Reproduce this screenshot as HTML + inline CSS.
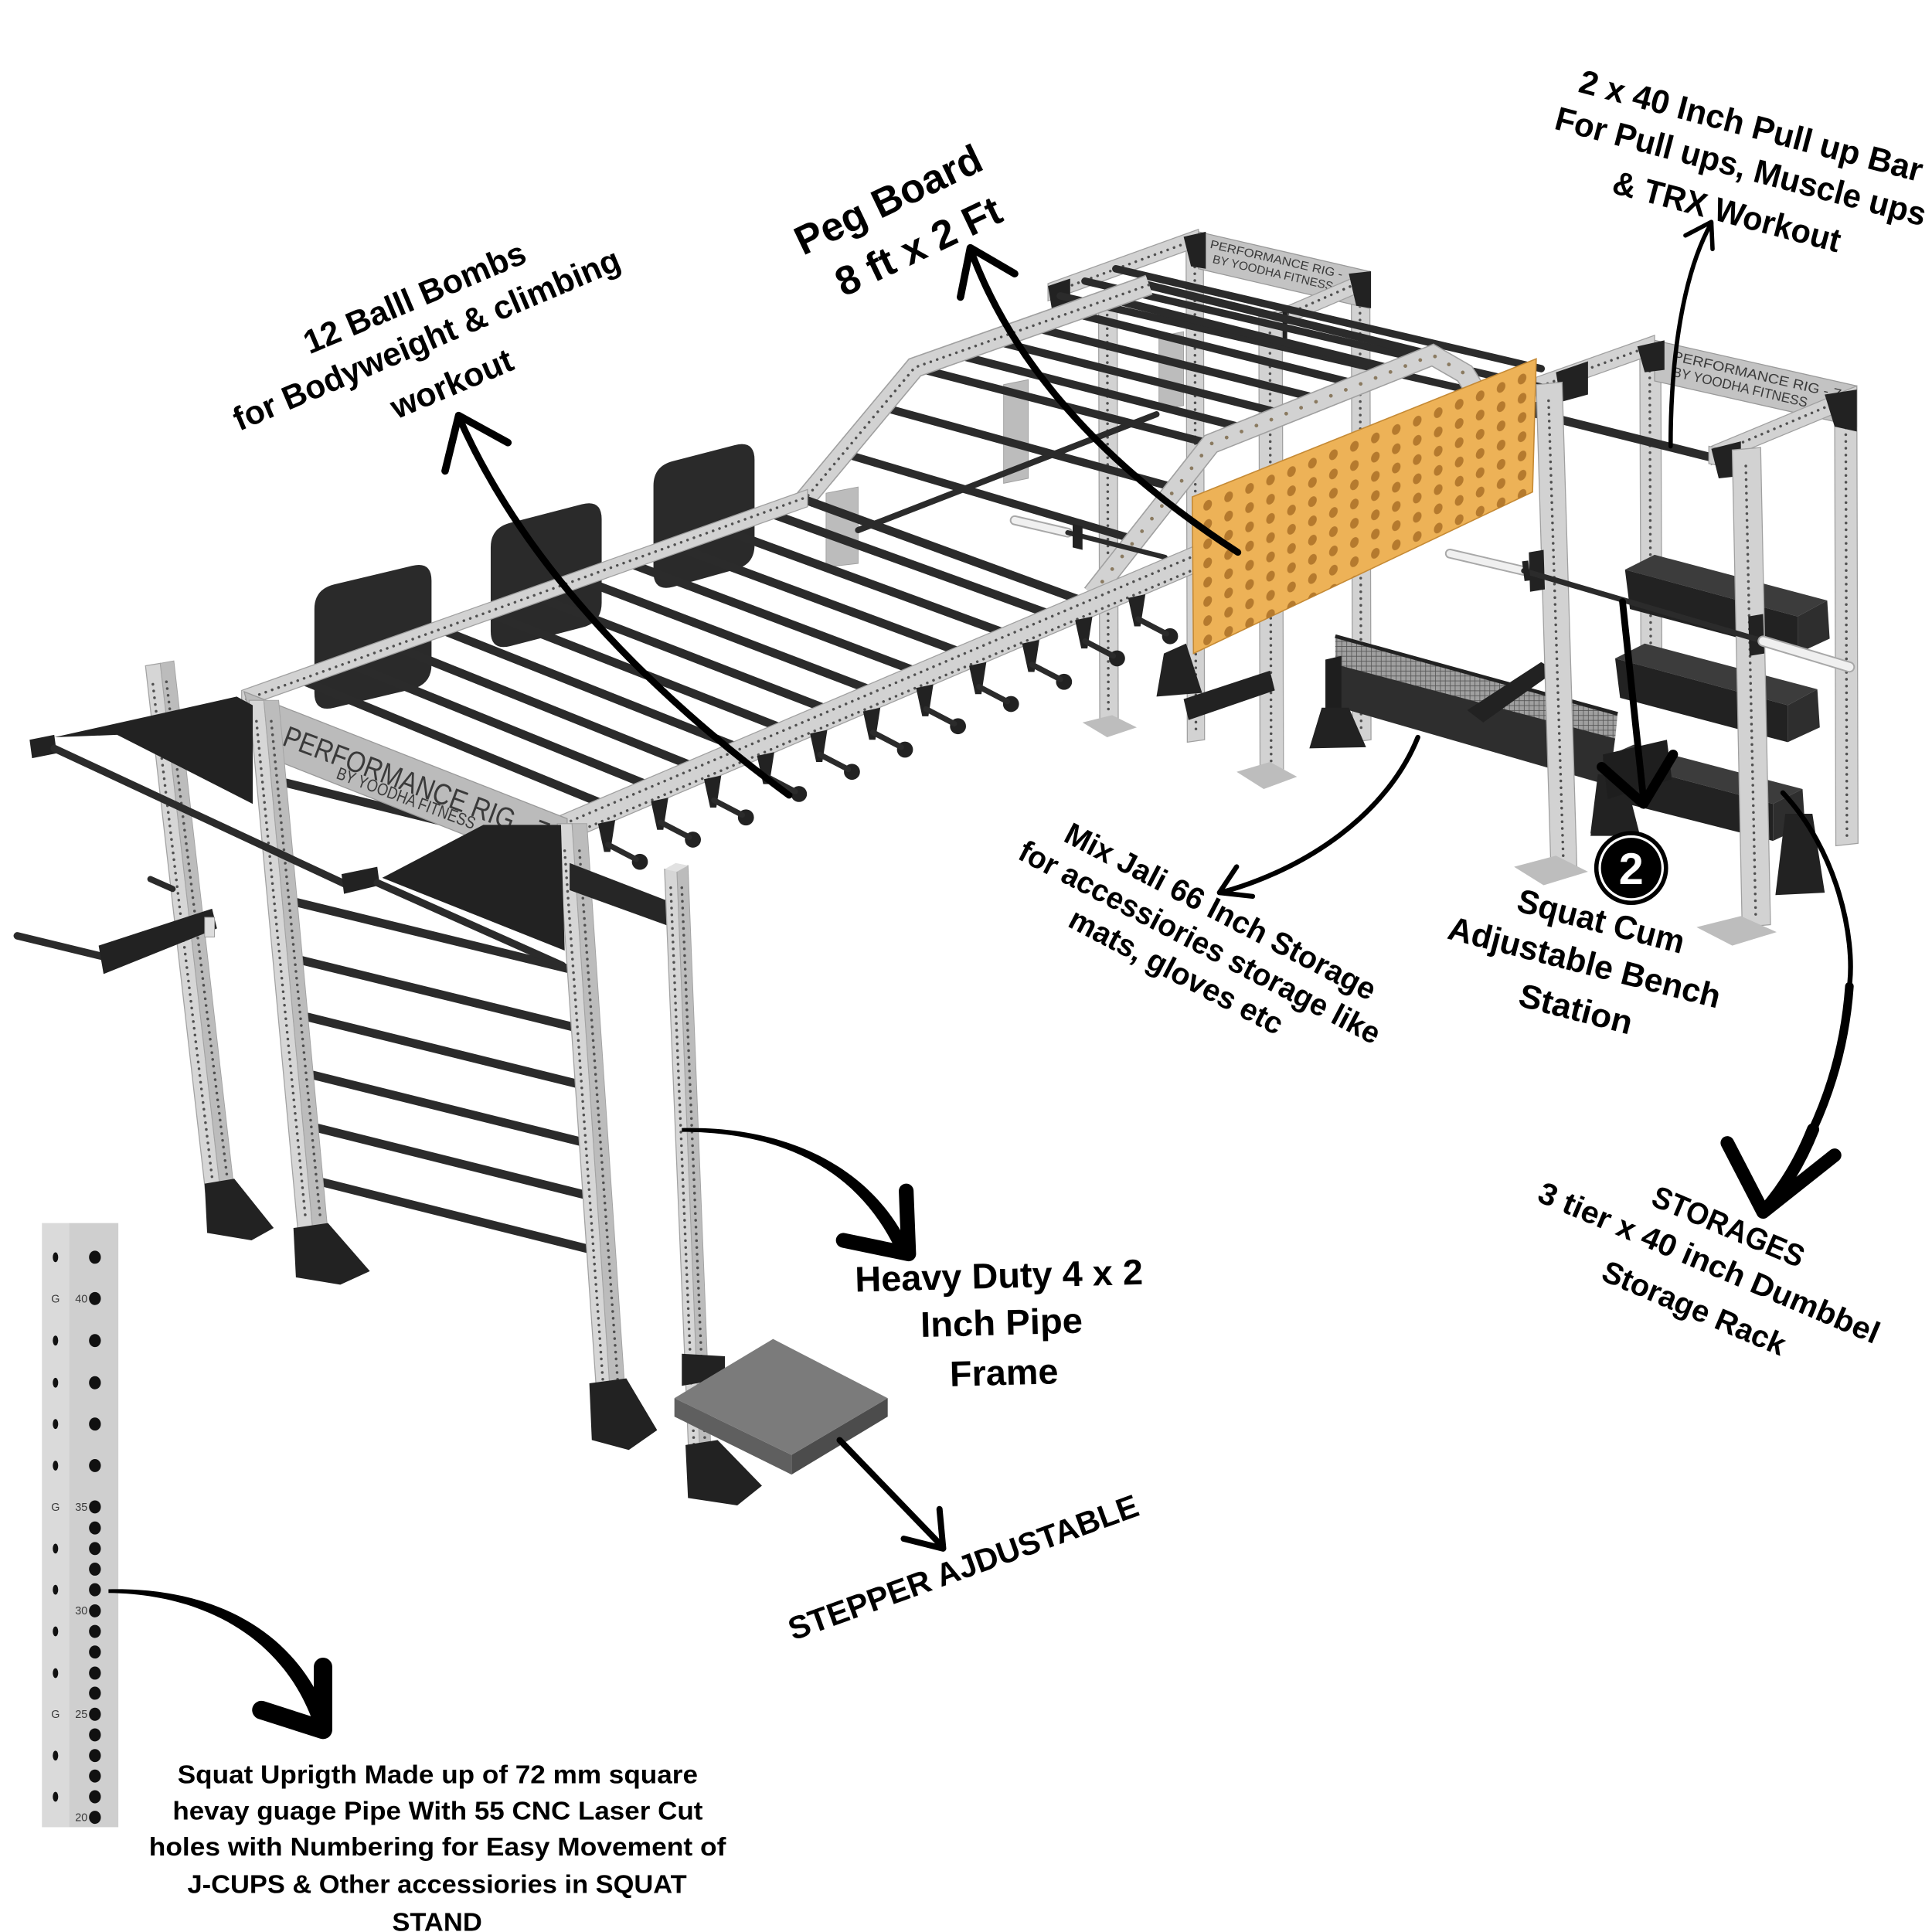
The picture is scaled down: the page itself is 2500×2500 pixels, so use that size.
<!DOCTYPE html>
<html><head><meta charset="utf-8"><style>
html,body{margin:0;padding:0;background:#fff;overflow:hidden;}
svg{display:block;}
.gm{fill:#d2d2d2;stroke:#a0a0a0;stroke-width:.8}
.gs{fill:#bcbcbc;stroke:#a0a0a0;stroke-width:.6}
.bk{fill:#222}
.rb{stroke:#2b2b2b;stroke-linecap:round;fill:none}
.dt{stroke:#505050;stroke-width:2.2;stroke-dasharray:0.01 5.5;stroke-linecap:round;fill:none}
.ar{stroke:#000;fill:none;stroke-linecap:round;stroke-linejoin:round}
.t{font-family:"Liberation Sans",Arial,sans-serif;font-weight:700;fill:#000}
.st{font-family:"Liberation Sans",Arial,sans-serif;fill:#3a3a3a}
</style></head><body>
<svg xmlns="http://www.w3.org/2000/svg" width="2500" height="2500" viewBox="0 0 1567 1567">
<defs>
<pattern id="holes" patternUnits="userSpaceOnUse" x="4" y="4" width="17" height="15.6"><ellipse cx="8.5" cy="7.8" rx="3.5" ry="4.1" fill="#B57A2E"/></pattern>
<pattern id="mesh" patternUnits="userSpaceOnUse" width="4" height="4"><rect width="4" height="4" fill="#a0a0a0"/><path d="M0,0H4M0,0V4" stroke="#555" stroke-width="1"/></pattern>
<clipPath id="pbc"><polygon points="967,403 1246,291 1243,399 968,530"/></clipPath>
</defs>
<rect width="1567" height="1567" fill="#fff"/>

<!-- Right rig back -->
<polygon class="gm" points="1330,280 1347,278 1348,565 1331,567"/>
<line class="dt" x1="1338" y1="290" x2="1339" y2="560"/>
<polygon class="gm" points="1488,315 1506,315 1507,684 1489,686"/>
<line class="dt" x1="1497" y1="325" x2="1498" y2="680"/>
<polygon fill="#c3c3c3" stroke="#9a9a9a" stroke-width=".8" points="1342,276 1506,313 1506,346 1342,309"/>
<text class="st" font-size="11" transform="translate(1356,292) rotate(13)" textLength="140" lengthAdjust="spacingAndGlyphs">PERFORMANCE RIG - 7</text>
<text class="st" font-size="11" transform="translate(1356,305) rotate(13)" textLength="112" lengthAdjust="spacingAndGlyphs">BY YOODHA FITNESS</text>
<polygon class="gm" points="1246,306 1342,272 1342,287 1246,321"/>
<line class="dt" x1="1250" y1="313" x2="1338" y2="281"/>
<polygon class="gm" points="1506,313 1388,362 1388,377 1506,328"/>
<line class="dt" x1="1500" y1="322" x2="1394" y2="367"/>

<!-- Middle rig -->
<polygon class="gm" points="962,192 976,190 977,600 963,602"/>
<line class="dt" x1="969" y1="200" x2="970" y2="595"/>
<polygon class="gm" points="1096,222 1111,220 1112,600 1097,602"/>
<line class="dt" x1="1103" y1="232" x2="1104" y2="595"/>
<polygon fill="#c3c3c3" stroke="#9a9a9a" stroke-width=".8" points="972,188 1110,220 1110,250 972,218"/>
<text class="st" font-size="9.5" transform="translate(981,201) rotate(13)" textLength="110" lengthAdjust="spacingAndGlyphs">PERFORMANCE RIG -</text>
<text class="st" font-size="9.5" transform="translate(983,213) rotate(13)" textLength="100" lengthAdjust="spacingAndGlyphs">BY YOODHA FITNESS</text>
<polygon class="gm" points="850,230 972,186 972,200 850,244"/>
<line class="dt" x1="854" y1="237" x2="968" y2="195"/>
<polygon class="gm" points="1110,220 1026,256 1026,270 1110,234"/>
<line class="dt" x1="1105" y1="228" x2="1030" y2="261"/>
<polygon class="bk" points="960,192 978,188 978,218 966,216"/>
<polygon class="bk" points="1094,222 1112,220 1112,250 1100,248"/>
<polygon class="bk" points="1020,258 1044,252 1044,280 1026,282"/>
<polygon class="bk" points="850,232 868,226 868,254 854,256"/>
<polygon class="gs" points="940,273 960,269 960,329 940,332"/>
<polygon class="gm" points="891,238 906,236 907,588 892,590"/>
<line class="dt" x1="898" y1="250" x2="899" y2="580"/>
<polygon fill="#bdbdbd" points="878,586 902,580 922,590 898,598"/>
<polygon class="gm" points="1021,256 1040,254 1041,628 1022,630"/>
<line class="dt" x1="1030" y1="270" x2="1031" y2="620"/>
<polygon fill="#bdbdbd" points="1003,626 1030,618 1052,630 1025,640"/>

<!-- long dark bars -->
<line class="rb" stroke-width="6" x1="860" y1="240" x2="1250" y2="330"/>
<line class="rb" stroke-width="6" x1="880" y1="228" x2="1250" y2="314"/>
<line class="rb" stroke-width="6" x1="905" y1="218" x2="1250" y2="299"/>
<line class="rb" stroke-width="7" x1="1200" y1="324" x2="1392" y2="372"/>
<polygon class="gm" points="1386,362 1424,370 1424,383 1386,376"/>
<polygon class="bk" points="1262,302 1288,293 1288,320 1266,326"/>
<polygon class="bk" points="1480,320 1506,316 1506,350 1488,346"/>
<polygon class="bk" points="1388,364 1412,358 1412,386 1394,388"/>
<polygon class="bk" points="1328,281 1350,276 1350,300 1334,302"/>

<!-- under far arch -->
<polygon class="gs" points="670,400 696,395 696,457 670,460"/>
<polygon class="gs" points="814,312 834,308 834,388 814,392"/>
<line class="rb" stroke-width="5" x1="696" y1="430" x2="938" y2="336"/>

<!-- arch bars -->
<g class="rb" stroke-width="6.5">
<line x1="683.5" y1="367.5" x2="919.6" y2="437.4"/>
<line x1="715" y1="330" x2="953.2" y2="395.7"/>
<line x1="742" y1="298" x2="982" y2="360"/>
<line x1="773" y1="287" x2="1012" y2="348"/>
<line x1="805" y1="276" x2="1042" y2="336"/>
<line x1="836" y1="265" x2="1072" y2="324"/>
<line x1="867" y1="253" x2="1102" y2="312"/>
<line x1="899" y1="242" x2="1132" y2="300"/>
<line x1="930" y1="231" x2="1162" y2="288"/>
</g>
<!-- far arch member -->
<polyline points="652,406 742,298 932,231" fill="none" stroke="#a0a0a0" stroke-width="17"/>
<polyline points="652,406 742,298 932,231" fill="none" stroke="#d2d2d2" stroke-width="15"/>
<polyline class="dt" points="652,406 742,298 932,231"/>

<!-- ball bomb plates -->
<path fill="#2a2a2a" d="M255,494 Q255,478 271,474 L334,459 Q350,455 350,471 L350,539 Q350,555 334,559 L271,574 Q255,578 255,562 Z"/>
<path fill="#2a2a2a" d="M398,444 Q398,428 414,424 L472,409 Q488,405 488,421 L488,489 Q488,505 472,509 L414,524 Q398,528 398,512 Z"/>
<path fill="#2a2a2a" d="M530,394 Q530,378 546,374 L596,361 Q612,357 612,373 L612,442 Q612,458 596,462 L546,476 Q530,480 530,464 Z"/>

<!-- monkey rungs -->
<g class="rb" stroke-width="7">
<line x1="243" y1="551" x2="497.9" y2="655.7"/>
<line x1="281" y1="537.5" x2="534.1" y2="640.3"/>
<line x1="319" y1="523.9" x2="570.4" y2="624.9"/>
<line x1="357" y1="510.4" x2="606.6" y2="609.4"/>
<line x1="395" y1="496.9" x2="642.8" y2="594"/>
<line x1="433" y1="483.3" x2="679.1" y2="578.5"/>
<line x1="471" y1="469.8" x2="715.3" y2="563.1"/>
<line x1="509" y1="456.3" x2="751.6" y2="547.7"/>
<line x1="547" y1="442.8" x2="787.8" y2="532.2"/>
<line x1="585" y1="429.2" x2="824" y2="516.8"/>
<line x1="623" y1="415.7" x2="860.3" y2="501.4"/>
<line x1="652" y1="405" x2="886" y2="490.4"/>
</g>

<!-- far rail -->
<polygon class="gm" points="196,560 655,397 655,411 196,574"/>
<line class="dt" x1="200" y1="567" x2="652" y2="404"/>

<!-- near arch member -->
<polyline points="886,482 982,360 1162,288 1188,303 1205,330" fill="none" stroke="#a0a0a0" stroke-width="17"/>
<polyline points="886,482 982,360 1162,288 1188,303 1205,330" fill="none" stroke="#d2d2d2" stroke-width="15"/>
<polyline points="886,482 982,360 1162,288 1188,303" fill="none" stroke="#8a7a60" stroke-width="3" stroke-dasharray="0.01 13" stroke-linecap="round"/>

<!-- barbell under arch -->
<line x1="823" y1="422" x2="866" y2="432" stroke="#a8a8a8" stroke-width="8" stroke-linecap="round"/>
<line x1="823" y1="422" x2="866" y2="432" stroke="#f0f0f0" stroke-width="5.5" stroke-linecap="round"/>
<line class="rb" stroke-width="4" x1="866" y1="432" x2="945" y2="452"/>
<polygon class="bk" points="870,425 878,427 878,446 870,444"/>

<!-- near rail -->
<polygon class="gm" points="453,662 985,436 985,458 453,685"/>
<line class="dt" x1="458" y1="668" x2="980" y2="446"/>
<line class="dt" x1="458" y1="679" x2="980" y2="457"/>

<!-- hooks -->
<g fill="#222">
<polygon points="485,668 499,665 495,691 490,691"/><polygon points="528,650 542,647 538,673 533,673"/>
<polygon points="571,632 585,629 581,655 576,655"/><polygon points="614,613 628,610 624,636 619,636"/>
<polygon points="657,595 671,592 667,618 662,618"/><polygon points="700,577 714,574 710,600 705,600"/>
<polygon points="743,558 757,555 753,581 748,581"/><polygon points="786,540 800,537 796,563 791,563"/>
<polygon points="829,522 843,519 839,545 834,545"/><polygon points="872,503 886,500 882,526 877,526"/>
<polygon points="915,485 929,482 925,508 920,508"/>
<circle cx="519" cy="699" r="6.5"/><circle cx="562" cy="681" r="6.5"/><circle cx="605" cy="663" r="6.5"/>
<circle cx="648" cy="644" r="6.5"/><circle cx="691" cy="626" r="6.5"/><circle cx="734" cy="608" r="6.5"/>
<circle cx="777" cy="589" r="6.5"/><circle cx="820" cy="571" r="6.5"/><circle cx="863" cy="553" r="6.5"/>
<circle cx="906" cy="534" r="6.5"/><circle cx="949" cy="516" r="6.5"/>
</g>
<g class="rb" stroke-width="4.5" stroke="#222">
<line x1="493" y1="685" x2="516" y2="697"/><line x1="536" y1="667" x2="559" y2="679"/><line x1="579" y1="649" x2="602" y2="661"/>
<line x1="622" y1="630" x2="645" y2="642"/><line x1="665" y1="612" x2="688" y2="624"/><line x1="708" y1="594" x2="731" y2="606"/>
<line x1="751" y1="575" x2="774" y2="587"/><line x1="794" y1="557" x2="817" y2="569"/><line x1="837" y1="539" x2="860" y2="551"/>
<line x1="880" y1="520" x2="903" y2="532"/><line x1="923" y1="502" x2="946" y2="514"/>
</g>

<!-- black stuff under pegboard -->
<polygon class="bk" points="944,530 962,522 975,562 938,565"/>
<polygon class="bk" points="960,567 1030,544 1034,560 964,584"/>

<!-- Pegboard -->
<polygon points="967,403 1246,291 1243,399 968,530" fill="#EDB257" stroke="#c58a35" stroke-width="1"/>
<g clip-path="url(#pbc)"><g transform="matrix(1,-0.4014,0,1,967,403)"><rect x="4" y="4" width="272" height="122" fill="url(#holes)"/></g></g>

<!-- Mix jali basket -->
<polygon fill="url(#mesh)" points="1083,516 1312,579 1310,600 1083,540"/>
<polygon fill="#2e2e2e" points="1080,538 1310,599 1305,637 1080,572"/>
<polygon fill="#1e1e1e" points="1075,535 1088,532 1088,575 1075,578"/>
<line x1="1083" y1="516" x2="1312" y2="579" stroke="#222" stroke-width="3"/>
<polygon class="bk" points="1072,574 1094,574 1108,606 1062,607"/>
<polygon class="bk" points="1296,628 1318,630 1330,677 1290,676"/>
<polygon class="bk" points="1190,576 1250,537 1262,544 1203,586"/>

<!-- Trays -->
<polygon fill="#3c3c3c" points="1318,462 1342,450 1482,487 1458,500"/>
<polygon fill="#222" points="1318,462 1458,500 1458,530 1322,494"/>
<polygon fill="#2e2e2e" points="1458,500 1482,487 1484,518 1458,530"/>
<polygon fill="#3c3c3c" points="1310,534 1334,522 1474,559 1450,572"/>
<polygon fill="#222" points="1310,534 1450,572 1450,602 1314,566"/>
<polygon fill="#2e2e2e" points="1450,572 1474,559 1476,590 1450,602"/>
<polygon fill="#3c3c3c" points="1300,615 1325,604 1462,640 1438,652"/>
<polygon fill="#222" points="1300,615 1438,652 1438,682 1304,648"/>
<polygon fill="#2e2e2e" points="1438,652 1462,640 1464,670 1438,682"/>
<polygon fill="#1e1e1e" points="1300,612 1352,600 1356,632 1304,648"/>
<polygon class="bk" points="1296,648 1322,648 1330,678 1290,678"/>
<polygon class="bk" points="1448,660 1470,660 1480,724 1440,726"/>

<!-- Right rig front posts -->
<polygon class="gm" points="1246,312 1267,310 1279,705 1258,707"/>
<line class="dt" x1="1256" y1="325" x2="1268" y2="698"/>
<polygon fill="#bdbdbd" points="1228,703 1262,694 1288,707 1252,718"/>
<polygon class="gm" points="1405,365 1428,363 1436,750 1413,752"/>
<line class="dt" x1="1416" y1="378" x2="1424" y2="742"/>
<polygon fill="#bdbdbd" points="1376,752 1412,743 1441,756 1405,767"/>
<polygon class="bk" points="1240,448 1252,446 1253,478 1241,480"/>
<polygon class="bk" points="1418,500 1430,498 1431,530 1419,532"/>
<!-- barbell -->
<line x1="1176" y1="449" x2="1236" y2="463" stroke="#a8a8a8" stroke-width="8" stroke-linecap="round"/>
<line x1="1176" y1="449" x2="1236" y2="463" stroke="#f0f0f0" stroke-width="5.5" stroke-linecap="round"/>
<line class="rb" stroke-width="4.5" x1="1236" y1="463" x2="1430" y2="520"/>
<line x1="1430" y1="520" x2="1500" y2="541" stroke="#a8a8a8" stroke-width="9" stroke-linecap="round"/>
<line x1="1430" y1="520" x2="1500" y2="541" stroke="#f0f0f0" stroke-width="6.5" stroke-linecap="round"/>
<line x1="1237" y1="455" x2="1239" y2="471" stroke="#222" stroke-width="5"/>

<!-- Left small upright -->
<polygon fill="#d6d6d6" stroke="#a3a3a3" stroke-width=".8" points="118,540 130,538 179,968 167,970"/>
<polygon fill="#bcbcbc" stroke="#a3a3a3" stroke-width=".6" points="130,538 141,536 190,966 179,968"/>
<line class="dt" x1="124" y1="555" x2="172" y2="955"/>
<line class="dt" x1="135" y1="553" x2="184" y2="953"/>
<polygon class="bk" points="166,960 190,956 222,996 204,1006 168,1000"/>
<!-- J-cup assembly -->
<line class="rb" stroke-width="6" x1="14" y1="759" x2="84" y2="776"/>
<polygon class="bk" points="80,767 172,737 176,753 84,790"/>
<line class="rb" stroke-width="5" x1="122" y1="713" x2="140" y2="721"/>
<rect x="166" y="744" width="8" height="16" fill="#ddd" stroke="#999" stroke-width=".6"/>

<!-- ladder rungs -->
<g class="rb" stroke-width="7">
<line x1="232" y1="635" x2="455" y2="690"/>
<line x1="241" y1="732" x2="462" y2="786"/>
<line x1="245" y1="779" x2="465" y2="833"/>
<line x1="250" y1="825" x2="468" y2="879"/>
<line x1="254" y1="872" x2="471" y2="926"/>
<line x1="258" y1="915" x2="474" y2="969"/>
<line x1="262" y1="959" x2="477" y2="1013"/>
</g>

<!-- front panel -->
<polygon fill="#bbbbbb" stroke="#999" stroke-width=".8" points="198,561 460,664 460,710 212,612"/>
<text class="st" font-size="24" transform="translate(228,604) rotate(20.5)" textLength="228" lengthAdjust="spacingAndGlyphs">PERFORMANCE RIG - 7</text>
<text class="st" font-size="14" transform="translate(272,631) rotate(20.5)" textLength="119" lengthAdjust="spacingAndGlyphs">BY YOODHA FITNESS</text>

<!-- front-left upright -->
<polygon fill="#d6d6d6" stroke="#a3a3a3" stroke-width=".8" points="202,568 214,568 254,1001 242,1002"/>
<polygon fill="#bcbcbc" stroke="#a3a3a3" stroke-width=".6" points="214,568 226,568 266,1000 254,1001"/>
<line class="dt" x1="208" y1="585" x2="248" y2="990"/>
<line class="dt" x1="220" y1="585" x2="260" y2="990"/>
<polygon class="bk" points="238,996 266,992 300,1031 276,1042 240,1036"/>

<!-- front-right upright -->
<polygon fill="#d6d6d6" stroke="#a3a3a3" stroke-width=".8" points="452,668 464,668 495,1131 484,1132"/>
<polygon fill="#bcbcbc" stroke="#a3a3a3" stroke-width=".6" points="464,668 476,668 507,1130 495,1131"/>
<line class="dt" x1="458" y1="690" x2="489" y2="1120"/>
<line class="dt" x1="470" y1="690" x2="501" y2="1120"/>
<polygon class="bk" points="478,1122 508,1118 533,1160 510,1176 480,1168"/>

<!-- dips -->
<polygon class="bk" points="44,598 192,565 205,572 205,652 95,596"/>
<polygon class="bk" points="24,600 44,596 46,611 26,615"/>
<line class="rb" stroke-width="6" x1="44" y1="607" x2="282" y2="718"/>
<polygon class="bk" points="310,712 392,669 455,669 458,771"/>
<polygon class="bk" points="277,709 306,703 308,718 279,725"/>
<line class="rb" stroke-width="6" x1="306" y1="716" x2="456" y2="783"/>
<polygon fill="#262626" points="462,700 545,732 545,752 462,722"/>

<!-- stepper upright -->
<polygon fill="#d6d6d6" stroke="#a3a3a3" stroke-width=".8" points="539,705 549,704 569,1213 560,1214"/>
<polygon fill="#bcbcbc" stroke="#a3a3a3" stroke-width=".6" points="549,704 558,702 578,1212 569,1213"/>
<line class="dt" x1="544" y1="720" x2="564" y2="1200"/>
<line class="dt" x1="553" y1="720" x2="573" y2="1200"/>
<polygon fill="#e2e2e2" points="539,705 548,700 558,702 549,707"/>
<polygon class="bk" points="556,1172 582,1168 618,1205 598,1221 558,1215"/>
<polygon class="bk" points="553,1098 588,1100 588,1118 553,1124"/>
<!-- stepper -->
<polygon fill="#5f5f5f" points="547,1134 642,1180 642,1196 547,1149"/>
<polygon fill="#4c4c4c" points="642,1180 720,1134 720,1149 642,1196"/>
<polygon fill="#7b7b7b" points="547,1134 627,1086 720,1134 642,1180"/>

<!-- inset upright -->
<rect x="34" y="992" width="22" height="490" fill="#dadada"/>
<rect x="56" y="992" width="40" height="490" fill="#cfcfcf"/>
<g fill="#111">
<ellipse cx="77" cy="1019.7" rx="4.8" ry="5.3"/><ellipse cx="77" cy="1053.2" rx="4.8" ry="5.3"/><ellipse cx="77" cy="1087.3" rx="4.8" ry="5.3"/>
<ellipse cx="77" cy="1121.5" rx="4.8" ry="5.3"/><ellipse cx="77" cy="1155" rx="4.8" ry="5.3"/><ellipse cx="77" cy="1188.7" rx="4.8" ry="5.3"/>
<ellipse cx="77" cy="1222.2" rx="4.8" ry="5.3"/><ellipse cx="77" cy="1239.3" rx="4.8" ry="5.3"/><ellipse cx="77" cy="1256" rx="4.8" ry="5.3"/>
<ellipse cx="77" cy="1272.7" rx="4.8" ry="5.3"/><ellipse cx="77" cy="1289.4" rx="4.8" ry="5.3"/><ellipse cx="77" cy="1306.5" rx="4.8" ry="5.3"/>
<ellipse cx="77" cy="1323.2" rx="4.8" ry="5.3"/><ellipse cx="77" cy="1339.9" rx="4.8" ry="5.3"/><ellipse cx="77" cy="1357" rx="4.8" ry="5.3"/>
<ellipse cx="77" cy="1373.3" rx="4.8" ry="5.3"/><ellipse cx="77" cy="1390.4" rx="4.8" ry="5.3"/><ellipse cx="77" cy="1407.1" rx="4.8" ry="5.3"/>
<ellipse cx="77" cy="1423.9" rx="4.8" ry="5.3"/><ellipse cx="77" cy="1440.5" rx="4.8" ry="5.3"/><ellipse cx="77" cy="1457.3" rx="4.8" ry="5.3"/>
<ellipse cx="77" cy="1474" rx="4.8" ry="5.3"/>
<ellipse cx="45" cy="1019.7" rx="2.2" ry="4"/><ellipse cx="45" cy="1087.3" rx="2.2" ry="4"/><ellipse cx="45" cy="1121.5" rx="2.2" ry="4"/>
<ellipse cx="45" cy="1155" rx="2.2" ry="4"/><ellipse cx="45" cy="1188.7" rx="2.2" ry="4"/><ellipse cx="45" cy="1256" rx="2.2" ry="4"/>
<ellipse cx="45" cy="1289.4" rx="2.2" ry="4"/><ellipse cx="45" cy="1323.2" rx="2.2" ry="4"/><ellipse cx="45" cy="1357" rx="2.2" ry="4"/>
<ellipse cx="45" cy="1423.9" rx="2.2" ry="4"/><ellipse cx="45" cy="1457.3" rx="2.2" ry="4"/>
</g>
<g class="st" font-size="9" fill="#444">
<text x="45" y="1056.5" text-anchor="middle">G</text><text x="45" y="1225.5" text-anchor="middle">G</text><text x="45" y="1393.5" text-anchor="middle">G</text>
<text x="71" y="1056.5" text-anchor="end">40</text><text x="71" y="1225.5" text-anchor="end">35</text><text x="71" y="1309.5" text-anchor="end">30</text>
<text x="71" y="1393.5" text-anchor="end">25</text><text x="71" y="1477" text-anchor="end">20</text>
</g>

<!-- Arrows -->
<path class="ar" stroke-width="5.5" d="M640,645 C545,575 430,470 372,338"/>
<polyline class="ar" stroke-width="6" points="361,382 372,337 412,359"/>
<path class="ar" stroke-width="5.5" d="M1004,448 C930,400 830,320 787,202"/>
<polyline class="ar" stroke-width="6" points="779,241 787,201 823,222"/>
<path class="ar" stroke-width="3.5" d="M1355,362 C1355,290 1365,222 1388,181"/>
<polyline class="ar" stroke-width="3.5" points="1367,191 1388,180 1389,202"/>
<path class="ar" stroke-width="4" d="M1150,598 C1125,660 1060,705 990,724"/>
<polyline class="ar" stroke-width="4" points="1003,703 989,724 1016,727"/>
<path class="ar" stroke-width="5.5" d="M1316,488 L1333,648"/>
<polyline class="ar" stroke-width="8" points="1299,622 1333,652 1357,612"/>
<path class="ar" stroke-width="4" d="M1446,643 C1490,690 1505,760 1500,800"/>
<path class="ar" stroke-width="7" d="M1500,800 C1495,870 1470,930 1430,983"/>
<path class="ar" stroke-width="10" d="M1470.5,916 Q1455,955 1430,983"/>
<polyline class="ar" stroke-width="11" points="1401,927 1430,983 1488,937"/>
<path fill="#000" d="M553,915 C640,913 710,948 739,1015 L729,1019 C700,953 640,918 553,918 Z"/>
<polyline class="ar" stroke-width="12" points="684,1006 737,1017 735,966"/>
<path class="ar" stroke-width="5" d="M681,1168 L763,1253"/>
<polyline class="ar" stroke-width="5" points="733,1248 765,1256 762,1224"/>
<path fill="#000" d="M88,1289 C172,1287 240,1322 266,1393 L254,1397 C230,1330 168,1293 88,1292 Z"/>
<polyline class="ar" stroke-width="15" points="212,1387 262,1403 262,1352"/>

<!-- circle 2 -->
<circle cx="1323" cy="704" r="30" fill="#000"/>
<circle cx="1323" cy="704" r="25.5" fill="none" stroke="#fff" stroke-width="2"/>
<text class="t" x="1323" y="717" font-size="36" style="fill:#fff" text-anchor="middle">2</text>

<!-- Labels -->
<text class="t" font-size="27" transform="translate(251,287.5) rotate(-23)" textLength="193" lengthAdjust="spacingAndGlyphs">12 Balll Bombs</text>
<text class="t" font-size="27" transform="translate(194,349.8) rotate(-23)" textLength="338" lengthAdjust="spacingAndGlyphs">for Bodyweight &amp; climbing</text>
<text class="t" font-size="27" transform="translate(321.6,340.2) rotate(-23)" textLength="105" lengthAdjust="spacingAndGlyphs">workout</text>

<text class="t" font-size="33" transform="translate(651.3,207.5) rotate(-25.5)" textLength="164" lengthAdjust="spacingAndGlyphs">Peg Board</text>
<text class="t" font-size="33" transform="translate(684.3,241.1) rotate(-25.5)" textLength="145" lengthAdjust="spacingAndGlyphs">8 ft x 2 Ft</text>

<text class="t" font-size="27" transform="translate(1279.2,74.3) rotate(14.8)" textLength="287" lengthAdjust="spacingAndGlyphs">2 x 40 Inch Pull up Bar</text>
<text class="t" font-size="27" transform="translate(1259.7,104.3) rotate(14.8)" textLength="310" lengthAdjust="spacingAndGlyphs">For Pull ups, Muscle ups</text>
<text class="t" font-size="27" transform="translate(1306.4,156.2) rotate(14.8)" textLength="190" lengthAdjust="spacingAndGlyphs">&amp; TRX Workout</text>

<text class="t" font-size="25" transform="translate(861.5,681.7) rotate(27.6)" textLength="281" lengthAdjust="spacingAndGlyphs">Mix Jali 66 Inch Storage</text>
<text class="t" font-size="25" transform="translate(824.3,696) rotate(27.6)" textLength="327" lengthAdjust="spacingAndGlyphs">for accessiories storage like</text>
<text class="t" font-size="25" transform="translate(865,750.9) rotate(27.6)" textLength="192" lengthAdjust="spacingAndGlyphs">mats, gloves etc</text>

<text class="t" font-size="27" transform="translate(1229,738.7) rotate(14.5)" textLength="139" lengthAdjust="spacingAndGlyphs">Squat Cum</text>
<text class="t" font-size="27" transform="translate(1173,761) rotate(14.5)" textLength="227" lengthAdjust="spacingAndGlyphs">Adjustable Bench</text>
<text class="t" font-size="27" transform="translate(1230.3,815.5) rotate(14.5)" textLength="94" lengthAdjust="spacingAndGlyphs">Station</text>

<text class="t" font-size="25" transform="translate(1338,977) rotate(23)" textLength="131.5" lengthAdjust="spacingAndGlyphs">STORAGES</text>
<text class="t" font-size="25" transform="translate(1245.7,973.8) rotate(23)" textLength="298" lengthAdjust="spacingAndGlyphs">3 tier x 40 inch Dumbbel</text>
<text class="t" font-size="25" transform="translate(1297.5,1037.7) rotate(23)" textLength="159" lengthAdjust="spacingAndGlyphs">Storage Rack</text>

<text class="t" font-size="29" transform="translate(693.7,1047.7) rotate(-1.5)" textLength="233.6" lengthAdjust="spacingAndGlyphs">Heavy Duty 4 x 2</text>
<text class="t" font-size="29" transform="translate(746.8,1084.4) rotate(-1.5)" textLength="131.6" lengthAdjust="spacingAndGlyphs">Inch Pipe</text>
<text class="t" font-size="29" transform="translate(770.6,1124.4) rotate(-1.5)" textLength="88" lengthAdjust="spacingAndGlyphs">Frame</text>

<text class="t" font-size="26" transform="translate(643.3,1330.7) rotate(-19.9)" textLength="300" lengthAdjust="spacingAndGlyphs">STEPPER AJDUSTABLE</text>

<text class="t" font-size="21" x="144" y="1446.3" textLength="422" lengthAdjust="spacingAndGlyphs">Squat Uprigth Made up of 72 mm square</text>
<text class="t" font-size="21" x="140" y="1475.9" textLength="430" lengthAdjust="spacingAndGlyphs">hevay guage Pipe  With 55 CNC Laser Cut</text>
<text class="t" font-size="21" x="120.8" y="1505.1" textLength="468" lengthAdjust="spacingAndGlyphs">holes with Numbering for Easy Movement of</text>
<text class="t" font-size="21" x="152" y="1535.5" textLength="405" lengthAdjust="spacingAndGlyphs">J-CUPS &amp; Other accessiories in SQUAT</text>
<text class="t" font-size="21" x="318" y="1566" textLength="73" lengthAdjust="spacingAndGlyphs">STAND</text>
</svg>
</body></html>
